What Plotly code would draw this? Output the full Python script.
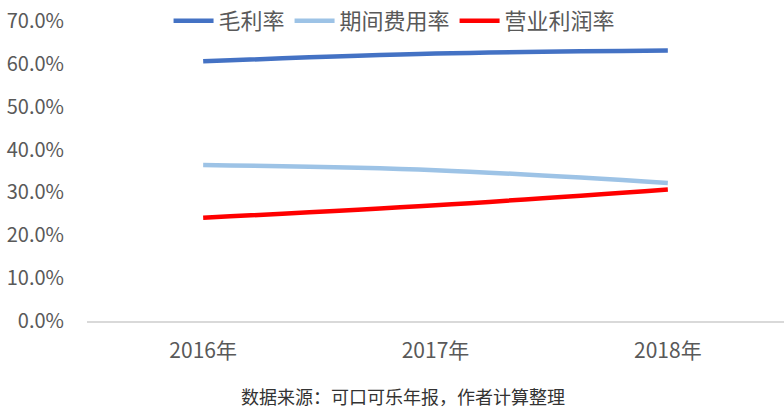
import plotly.graph_objects as go

years = ["2016年", "2017年", "2018年"]
gross_margin = [0.606, 0.624, 0.631]
period_expense = [0.364, 0.352, 0.322]
operating_margin = [0.241, 0.270, 0.307]
series_names = ["毛利率", "期间费用率", "营业利润率"]
colors = ["#4472C4", "#9DC3E6", "#FF0000"]

font_cn = "Noto Sans CJK SC"
fig = go.Figure()
for name, vals, c in zip(series_names, [gross_margin, period_expense, operating_margin], colors):
    fig.add_trace(go.Scatter(x=years, y=vals, name=name, mode="lines",
                             line=dict(color=c, width=4.5, shape="spline")))

fig.update_layout(
    width=784, height=411,
    margin=dict(l=87, r=0, t=21, b=90, autoexpand=False),
    paper_bgcolor="white", plot_bgcolor="white",
    font=dict(family=font_cn, color="#595959", size=18),
    showlegend=True,
    legend=dict(orientation="h", x=0.117, y=1.0, xanchor="left", yanchor="middle",
                font=dict(size=22, color="#595959"), bgcolor="rgba(0,0,0,0)",
                itemwidth=40, tracegroupgap=0),
    xaxis=dict(range=[-0.5, 2.5], showgrid=False, showline=True, linecolor="#D9D9D9",
               linewidth=1.5, ticks="outside", ticklen=10, tickcolor="rgba(0,0,0,0)",
               automargin=False, tickfont=dict(size=21, color="#595959")),
    yaxis=dict(range=[0, 0.7], dtick=0.1, tickformat=".1%", showgrid=False,
               zeroline=False, showline=False, ticks="outside", ticklen=18,
               automargin=False, tickcolor="rgba(0,0,0,0)",
               tickfont=dict(size=20, color="#595959")),
    annotations=[dict(text="数据来源：可口可乐年报，作者计算整理", xref="paper", yref="paper",
                      x=(403 - 87) / 697, y=-0.25, xanchor="center", yanchor="middle",
                      showarrow=False, font=dict(size=18, color="#333333"))],
)
fig.write_html("out.html", config={"displayModeBar": False},
               post_script="document.body.style.margin='0';document.body.style.padding='0';")
